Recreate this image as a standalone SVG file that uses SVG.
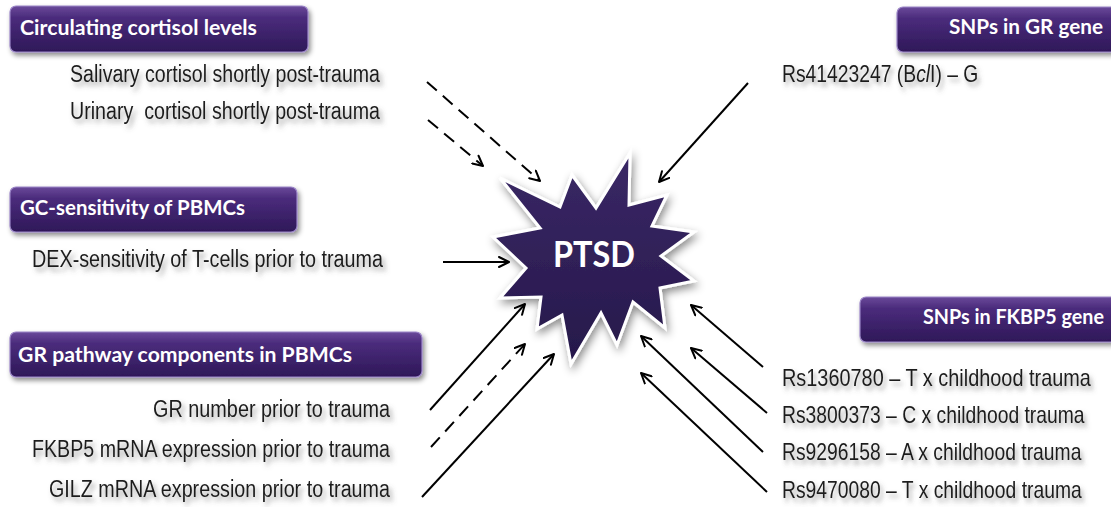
<svg xmlns="http://www.w3.org/2000/svg" width="1111" height="507" viewBox="0 0 1111 507">
<defs>
  <linearGradient id="boxg" x1="0" y1="0" x2="0" y2="1">
    <stop offset="0" stop-color="#6a4a9a"/>
    <stop offset="0.25" stop-color="#4b2c7c"/>
    <stop offset="1" stop-color="#2e1858"/>
  </linearGradient>
  <linearGradient id="starg" x1="0" y1="0" x2="0" y2="1">
    <stop offset="0" stop-color="#3a2866"/>
    <stop offset="1" stop-color="#26184a"/>
  </linearGradient>
  <filter id="boxsh" x="-10%" y="-30%" width="120%" height="170%">
    <feDropShadow dx="2" dy="3" stdDeviation="2.5" flood-color="#000" flood-opacity="0.45"/>
  </filter>
  <filter id="txtsh" x="-5%" y="-40%" width="112%" height="190%">
    <feDropShadow dx="3" dy="4" stdDeviation="2.5" flood-color="#555" flood-opacity="0.55"/>
  </filter>
  <filter id="starsh" x="-20%" y="-20%" width="140%" height="140%">
    <feDropShadow dx="2" dy="4" stdDeviation="4" flood-color="#000" flood-opacity="0.45"/>
  </filter>
  <marker id="ah" viewBox="0 0 12 12" refX="11" refY="6" markerWidth="12" markerHeight="12" markerUnits="userSpaceOnUse" orient="auto">
    <path d="M1,1 L11,6 L1,11" fill="none" stroke="#000" stroke-width="2" stroke-linecap="round" stroke-linejoin="round"/>
  </marker>
</defs>
<style>
  .box { fill: url(#boxg); stroke: #9c86c8; stroke-width: 1.2; filter: url(#boxsh); }
  .hd { font-family: Lato, "Open Sans", "Liberation Sans", sans-serif; font-weight: 700; font-size: 20px; fill: #ffffff; }
  .tx { font-family: "Liberation Sans", Arial, sans-serif; font-size: 23px; fill: #1e1e1e; filter: url(#txtsh); }
  .ln { stroke: #000; stroke-width: 2; fill: none; marker-end: url(#ah); }
  .dash { stroke-dasharray: 13 8; }
</style>
<rect width="1111" height="507" fill="#ffffff"/>

<g id="connectors">
  <line class="ln dash" x1="427" y1="82" x2="540" y2="181"/>
  <line class="ln dash" x1="428" y1="120" x2="483" y2="166"/>
  <line class="ln" x1="443" y1="262" x2="509" y2="262"/>
  <line class="ln" x1="430" y1="410" x2="525" y2="304"/>
  <line class="ln dash" x1="431" y1="447" x2="525" y2="344"/>
  <line class="ln" x1="422" y1="497" x2="554" y2="354"/>
  <line class="ln" x1="748" y1="83" x2="659" y2="182"/>
  <line class="ln" x1="763" y1="367" x2="691" y2="305"/>
  <line class="ln" x1="767" y1="413" x2="691" y2="348"/>
  <line class="ln" x1="763" y1="452" x2="641" y2="336"/>
  <line class="ln" x1="767" y1="492" x2="641" y2="373"/>
</g>

<g id="ptsd">
  <polygon filter="url(#starsh)" fill="url(#starg)" stroke="#ffffff" stroke-width="3" stroke-linejoin="miter"
    points="500,178 560,207 572,175 596,208 630,153 629,205 667,195 652,226 694,232 661,256 694,281 660,288 665,328 633,302 617,345 601,313 571,364 562,315 537,329 541,297 500,298 526,268 493,237 540,228"/>
  <text x="594" y="267" text-anchor="middle" font-family="Lato, 'Open Sans', 'Liberation Sans', sans-serif" font-weight="700" font-size="36" fill="#ffffff" textLength="82" lengthAdjust="spacingAndGlyphs">PTSD</text>
</g>

<g id="circulating">
  <rect class="box" x="10" y="6" width="298" height="46" rx="6"/>
  <text class="hd" x="20" y="35" textLength="237" lengthAdjust="spacingAndGlyphs">Circulating cortisol levels</text>
  <text class="tx" x="70" y="82" textLength="310" lengthAdjust="spacingAndGlyphs">Salivary cortisol shortly post-trauma</text>
  <text class="tx" x="70" y="119" textLength="310" lengthAdjust="spacingAndGlyphs">Urinary&#160; cortisol shortly post-trauma</text>
</g>

<g id="gc-sensitivity">
  <rect class="box" x="10" y="187" width="287" height="45" rx="6"/>
  <text class="hd" x="20" y="215" textLength="225" lengthAdjust="spacingAndGlyphs">GC-sensitivity of PBMCs</text>
  <text class="tx" x="32" y="267" textLength="351" lengthAdjust="spacingAndGlyphs">DEX-sensitivity of T-cells prior to trauma</text>
</g>

<g id="gr-pathway">
  <rect class="box" x="10" y="332" width="412" height="45" rx="6"/>
  <text class="hd" x="18" y="362" textLength="334" lengthAdjust="spacingAndGlyphs">GR pathway components in PBMCs</text>
  <text class="tx" x="153" y="417" textLength="237" lengthAdjust="spacingAndGlyphs">GR number prior to trauma</text>
  <text class="tx" x="32" y="457" textLength="358" lengthAdjust="spacingAndGlyphs">FKBP5 mRNA expression prior to trauma</text>
  <text class="tx" x="49" y="497" textLength="341" lengthAdjust="spacingAndGlyphs">GILZ mRNA expression prior to trauma</text>
</g>

<g id="snps-gr">
  <rect class="box" x="897" y="7" width="220" height="45" rx="6"/>
  <text class="hd" x="949" y="34" textLength="154" lengthAdjust="spacingAndGlyphs">SNPs in GR gene</text>
  <text class="tx" transform="translate(782,82) scale(0.84,1)" x="0" y="0">Rs41423247 (B<tspan font-style="italic">cl</tspan>I) – G</text>
</g>

<g id="snps-fkbp5">
  <rect class="box" x="860" y="297" width="257" height="45" rx="6"/>
  <text class="hd" x="923" y="324" textLength="181" lengthAdjust="spacingAndGlyphs">SNPs in FKBP5 gene</text>
  <text class="tx" transform="translate(782,386) scale(0.865,1)" x="0" y="0">Rs1360780 – T x childhood trauma</text>
  <text class="tx" transform="translate(782,423) scale(0.84,1)" x="0" y="0">Rs3800373 – C x childhood trauma</text>
  <text class="tx" transform="translate(782,460) scale(0.84,1)" x="0" y="0">Rs9296158 – A x childhood trauma</text>
  <text class="tx" transform="translate(782,498) scale(0.84,1)" x="0" y="0">Rs9470080 – T x childhood trauma</text>
</g>
</svg>
